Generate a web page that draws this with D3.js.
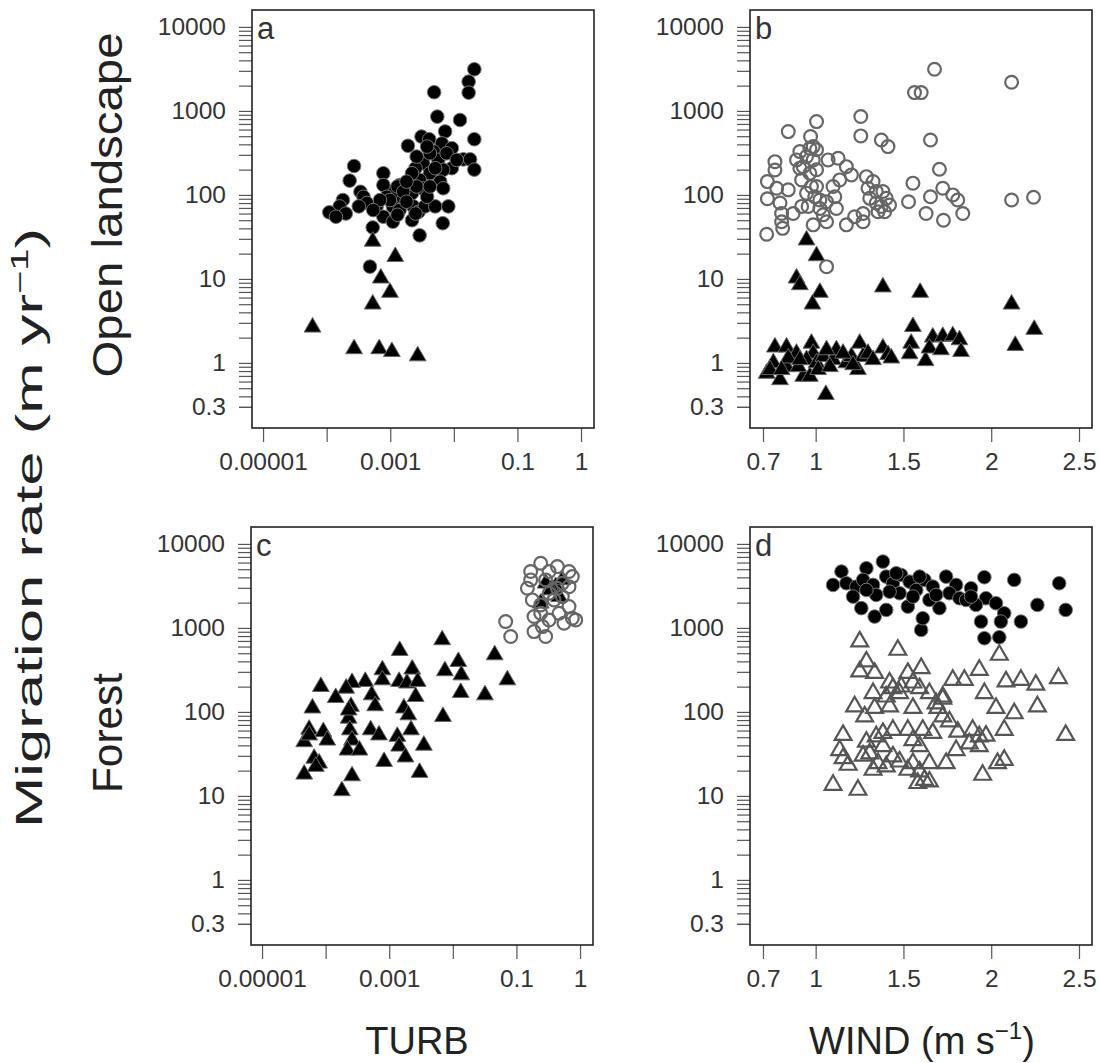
<!DOCTYPE html>
<html>
<head>
<meta charset="utf-8">
<title>Migration rate vs TURB and WIND</title>
<script src="https://d3js.org/d3.v7.min.js"></script>
<style>
  body { margin: 0; background: #fff; }
  text { font-family: "Liberation Sans", Arial, sans-serif; }
</style>
</head>
<body>
<svg id="chart" width="1101" height="1063"></svg>
<script>
// ---- data: [x, migration rate m/yr] ----
// a: open landscape, TURB
var aCircles = [[0.021,3130],[0.0171,2230],[0.0171,1650],[0.0049,1670],[0.0055,855],[0.0125,780],[0.0073,570],[0.021,460],[0.0031,495],[0.0041,460],[0.0019,385],[0.0065,410],[0.0093,360],[0.0141,265],[0.018,265],[0.021,200],[0.0093,208],[0.0048,330],[0.0033,238],[0.0025,208],[0.0057,261],[0.0068,199],[0.0042,181],[0.0029,151],[0.0061,144],[0.0068,120],[0.0032,120],[0.0022,105],[0.0014,131],[0.0015,95],[0.0011,109],[0.00078,181],[0.00078,131],[0.00088,95],[0.0011,73],[0.0014,66],[0.00061,73],[0.00078,55],[0.0011,48],[0.0023,73],[0.0028,63],[0.0035,73],[0.0051,73],[0.0082,73],[0.0022,50],[0.0025,60],[0.0067,46],[0.0029,33],[0.00027,221],[0.00023,148],[0.00034,109],[0.00038,95],[0.00043,80],[0.00032,73],[0.00018,87],[0.00016,73],[0.0002,60],[0.00011,62],[0.00014,55],[0.00053,41],[0.00048,14],[0.0013,126],[0.0016,109],[0.00099,87],[0.0018,83],[0.0013,58],[0.0026,126],[0.0038,95],[0.0042,313],[0.0026,286],[0.0077,313],[0.0051,208],[0.0022,181],[0.0018,144],[0.00069,87],[0.00054,66],[0.0042,126],[0.0111,261],[0.0038,376]];
var aTriangles = [[0.00053,28],[0.0012,18.4],[0.00071,10.2],[0.00099,6.9],[0.00053,5.0],[0.00006,2.66],[0.00027,1.47],[0.00067,1.47],[0.00106,1.36],[0.0027,1.21]];

// b: open landscape, WIND
var bCircles = [[1.677,3130],[2.116,2195],[1.563,1652],[1.601,1652],[1.005,746],[1.257,857],[0.844,567],[1.257,504],[0.971,495],[1.374,451],[1.412,376],[1.654,451],[0.986,376],[1.705,202],[2.116,87],[2.241,94],[1.554,138],[1.529,83],[1.654,95],[1.724,120],[1.781,100],[1.809,87],[1.838,60],[1.629,60],[1.728,50],[0.721,34],[0.725,144],[0.725,90],[0.768,249],[0.768,198],[0.778,120],[0.797,80],[0.806,60],[0.812,40],[0.844,115],[0.872,60],[0.891,261],[0.91,328],[0.929,217],[0.92,151],[0.948,286],[0.967,181],[0.986,261],[1.005,199],[0.976,126],[0.995,95],[0.957,73],[0.92,73],[1.024,69],[1.043,58],[0.986,44],[1.024,87],[1.062,83],[1.118,69],[1.071,261],[1.128,273],[1.099,126],[1.137,151],[1.109,95],[1.175,217],[1.204,173],[1.175,44],[1.222,55],[1.27,48],[1.27,60],[1.289,165],[1.298,120],[1.327,144],[1.345,110],[1.308,91],[1.345,80],[1.374,73],[1.402,91],[1.383,110],[1.355,63],[1.421,76],[1.393,63],[1.062,48],[0.806,48],[0.967,360],[1.005,345],[0.91,208],[0.948,105],[1.005,126],[1.062,14]];
var bTriangles = [[0.948,29],[1.005,18.8],[0.891,10.2],[0.91,8.5],[1.024,6.9],[0.982,5.0],[1.383,8.0],[1.595,6.9],[2.116,5.0],[1.554,2.7],[2.245,2.5],[2.137,1.61],[1.544,1.71],[1.535,1.28],[1.626,1.06],[1.667,2.02],[1.724,2.06],[1.781,2.1],[1.819,1.88],[1.828,1.36],[1.648,1.5],[1.714,1.43],[1.058,0.42],[0.721,0.75],[0.768,1.54],[0.834,1.54],[0.759,1.0],[0.797,0.63],[0.834,0.9],[0.891,1.3],[0.929,0.69],[0.967,0.69],[0.976,1.71],[0.986,1.3],[0.948,1.09],[1.005,1.0],[1.043,1.19],[1.099,1.09],[1.118,1.43],[1.175,1.0],[1.204,1.19],[1.251,1.71],[1.241,0.83],[1.27,1.19],[1.298,1.3],[1.327,1.09],[1.383,1.5],[1.412,1.25],[1.431,1.14],[0.844,1.14],[0.74,0.83],[0.806,0.83],[0.901,0.9],[1.062,1.43],[1.156,1.3],[1.213,0.95],[0.91,1.09],[1.014,0.83],[1.081,0.9]];

// c: forest, TURB
var cTriangles = [[0.0068,720],[0.00146,537],[0.0455,477],[0.0122,397],[0.0075,308],[0.0136,275],[0.072,240],[0.0023,322],[0.00078,316],[0.00078,240],[0.00042,230],[0.00026,223],[0.000084,200],[0.00021,191],[0.00143,230],[0.0019,220],[0.0028,230],[0.0026,152],[0.00053,159],[0.000144,148],[0.0133,170],[0.032,159],[0.000062,111],[0.00025,116],[0.0006,118],[0.0017,111],[0.00023,84],[0.002,92],[0.007,88],[0.000055,62],[0.000092,58],[0.000106,46],[0.000046,44],[0.00024,61],[0.00026,46],[0.00051,61],[0.00069,53],[0.00134,51],[0.0022,61],[0.00143,39],[0.0035,40],[0.00022,35],[0.00034,35],[0.0018,29],[0.000066,28],[0.000079,24.5],[0.00083,25.6],[0.00007,22.4],[0.000046,18.1],[0.003,19],[0.00026,17.3],[0.00018,11.5],[0.000055,53],[0.00023,105]];
var cCircles = [[0.241,5890],[0.44,5370],[0.671,4690],[0.1675,4690],[0.326,4690],[0.757,4080],[0.1486,2965],[0.671,3100],[0.527,3400],[0.288,3730],[0.178,2155],[0.241,1880],[0.39,2155],[0.671,1795],[0.757,1303],[0.56,1137],[0.326,1245],[0.189,1365],[0.189,904],[0.288,789],[0.256,1037],[0.468,1495],[0.0677,1190],[0.0813,789],[0.527,2360],[0.44,2965],[0.1675,3730],[0.326,2590],[0.241,1495],[0.855,1245]];
var cClusterTriangles = [[0.288,3400],[0.414,3100],[0.527,3730],[0.346,2830],[0.241,1965],[0.468,2360]];

// d: forest, WIND
var dCircles = [[1.383,6160],[1.289,5130],[1.147,4690],[1.099,3250],[1.175,3400],[1.232,3100],[1.27,3730],[1.327,3250],[1.402,4080],[1.44,3400],[1.487,4270],[1.535,3550],[1.573,2830],[1.62,3730],[1.667,3100],[1.743,4080],[1.8,3250],[1.762,2590],[1.819,2255],[1.885,2965],[1.961,4010],[2.131,3730],[2.387,3400],[1.97,2255],[1.913,1880],[2.027,1965],[2.263,1880],[2.424,1638],[2.074,1495],[1.942,1190],[2.055,1190],[2.169,1190],[1.961,754],[2.046,774],[1.601,946],[1.61,1303],[1.525,1795],[1.402,1638],[1.336,1365],[1.26,1720],[1.705,1720],[1.648,2155],[1.478,2590],[1.421,2700],[1.345,2470],[1.213,2360],[1.857,2155],[1.554,2360],[1.289,2830],[1.686,2470],[1.592,4080],[1.459,4470],[1.885,2360]];
var dTriangles = [[1.251,687],[1.468,547],[2.046,477],[1.289,397],[1.251,302],[1.336,290],[1.601,331],[1.525,290],[1.932,316],[1.781,240],[1.847,240],[2.084,230],[2.169,240],[2.254,210],[2.383,252],[1.421,223],[1.487,200],[1.554,223],[1.592,191],[1.648,167],[1.724,152],[1.961,167],[1.327,167],[1.402,152],[1.478,167],[1.222,116],[1.336,111],[1.279,88],[1.554,111],[1.696,111],[2.027,111],[2.131,96],[2.263,116],[1.724,88],[1.762,77],[1.156,53],[2.424,53],[2.074,61],[1.809,58],[1.894,61],[1.932,51],[1.97,52],[1.875,42],[1.932,39],[1.383,56],[1.44,61],[1.345,51],[1.525,61],[1.61,61],[1.667,56],[1.554,46],[1.592,39],[1.289,44],[1.137,35],[1.156,28],[1.185,23.4],[1.308,32],[1.355,24.5],[1.327,20.4],[1.402,22.4],[1.44,29.4],[1.478,25.6],[1.525,20.4],[1.554,24.5],[1.592,19.5],[1.62,15.5],[1.582,14.2],[1.648,14.8],[1.648,24.5],[1.743,24.5],[1.8,35],[1.951,17.8],[2.036,24.5],[2.074,26.8],[1.099,13.5],[1.241,11.8],[1.724,143],[1.44,191],[1.686,126],[1.27,30],[1.383,39],[1.421,116]];

// axis ticks
var yTicks = [0.3, 1, 10, 100, 1000, 10000];
var yLabels = ["0.3", "1", "10", "100", "1000", "10000"];
var turbTicks = [0.00001, 0.0001, 0.001, 0.01, 0.1, 1];
var turbLabels = ["0.00001", "", "0.001", "", "0.1", "1"];
var windTicks = [0.7, 1, 1.5, 2, 2.5];
var windLabels = ["0.7", "1", "1.5", "2", "2.5"];

// minor log ticks between 0.3 and 10000
var yMinor = [];
[0.1, 1, 10, 100, 1000].forEach(function(p) {
  for (var m = 2; m <= 9; m++) {
    var v = +(m * p).toPrecision(3);
    if (v >= 0.3) yMinor.push(v);
  }
});

var W = 342, H = 418;
var svg = d3.select("#chart");

var y = d3.scaleLog().domain([0.168, 15900]).range([H, 0]);
var xTurb = d3.scaleLog().domain([6.7e-6, 1.6]).range([0, W]);
var xWind = d3.scaleLinear().domain([0.626, 2.574]).range([0, W]);

var triangle = d3.symbol().type(d3.symbolTriangle).size(122);

function styleAxis(ax) {
  ax.select(".domain").remove();
  ax.selectAll("line").attr("stroke", "#555").attr("stroke-width", 1.2);
  ax.selectAll("text").attr("font-size", 24.5).attr("fill", "#333")
    .attr("font-family", "'Liberation Sans', Arial, sans-serif");
}

function panel(px, py, letter, x, xt, xl) {
  var g = svg.append("g").attr("transform", "translate(" + px + "," + py + ")");

  var ax = g.append("g").call(d3.axisLeft(y).tickValues(yMinor).tickSize(13).tickFormat(""));
  styleAxis(ax);
  ax = g.append("g").call(d3.axisLeft(y).tickValues(yTicks).tickSize(13).tickPadding(13)
    .tickFormat(function(d, i) { return yLabels[i]; }));
  styleAxis(ax);
  ax = g.append("g").attr("transform", "translate(0," + H + ")")
    .call(d3.axisBottom(x).tickValues(xt).tickSize(14).tickPadding(11)
      .tickFormat(function(d, i) { return xl[i]; }));
  styleAxis(ax);

  g.append("rect").attr("width", W).attr("height", H)
    .attr("fill", "none").attr("stroke", "#222").attr("stroke-width", 1.6);

  g.append("text").attr("x", 5).attr("y", 29).attr("font-size", 31).attr("fill", "#333").text(letter);
  return g;
}

function dots(g, data, x, filled) {
  g.append("g").selectAll("circle").data(data).enter().append("circle")
    .attr("cx", function(d) { return x(d[0]); })
    .attr("cy", function(d) { return y(d[1]); })
    .attr("r", filled ? 6.8 : 6.4)
    .attr("fill", filled ? "#000" : "none")
    .attr("stroke", filled ? "#777" : "#666")
    .attr("stroke-width", filled ? 1 : 2.2);
}

function tris(g, data, x, filled) {
  g.append("g").selectAll("path").data(data).enter().append("path")
    .attr("d", triangle)
    .attr("transform", function(d) { return "translate(" + x(d[0]) + "," + y(d[1]) + ")"; })
    .attr("fill", filled ? "#000" : "none")
    .attr("stroke", filled ? "#666" : "#555")
    .attr("stroke-width", filled ? 1 : 2.2);
}

var ga = panel(252, 10, "a", xTurb, turbTicks, turbLabels);
dots(ga, aCircles, xTurb, true);
tris(ga, aTriangles, xTurb, true);

var gb = panel(750, 10, "b", xWind, windTicks, windLabels);
tris(gb, bTriangles, xWind, true);
dots(gb, bCircles, xWind, false);

var gc = panel(251, 527, "c", xTurb, turbTicks, turbLabels);
tris(gc, cTriangles, xTurb, true);
tris(gc, cClusterTriangles, xTurb, true);
dots(gc, cCircles, xTurb, false);

var gd = panel(750, 527, "d", xWind, windTicks, windLabels);
dots(gd, dCircles, xWind, true);
tris(gd, dTriangles, xWind, false);

// axis titles
svg.append("text").attr("x", 417).attr("y", 1054).attr("text-anchor", "middle")
  .attr("font-size", 38).attr("fill", "#222").text("TURB");

var wt = svg.append("text").attr("x", 922).attr("y", 1054).attr("text-anchor", "middle")
  .attr("font-size", 38).attr("fill", "#222");
wt.append("tspan").text("WIND (m s");
wt.append("tspan").attr("font-size", 24).attr("dy", -15).text("\u22121");
wt.append("tspan").attr("dy", 15).text(")");

var yt = svg.append("text").attr("transform", "translate(42,528) rotate(-90)")
  .attr("text-anchor", "middle").attr("font-size", 37).attr("fill", "#222")
  .attr("textLength", 600).attr("lengthAdjust", "spacingAndGlyphs");
yt.append("tspan").text("Migration rate (m yr");
yt.append("tspan").attr("font-size", 24).attr("dy", -14).text("\u22121");
yt.append("tspan").attr("dy", 14).text(")");

svg.append("text").attr("transform", "translate(122,205) rotate(-90)")
  .attr("text-anchor", "middle").attr("font-size", 43).attr("fill", "#222")
  .attr("textLength", 345).attr("lengthAdjust", "spacingAndGlyphs")
  .text("Open landscape");

svg.append("text").attr("transform", "translate(122,733) rotate(-90)")
  .attr("text-anchor", "middle").attr("font-size", 43).attr("fill", "#222")
  .attr("textLength", 120).attr("lengthAdjust", "spacingAndGlyphs")
  .text("Forest");
</script>
</body>
</html>
